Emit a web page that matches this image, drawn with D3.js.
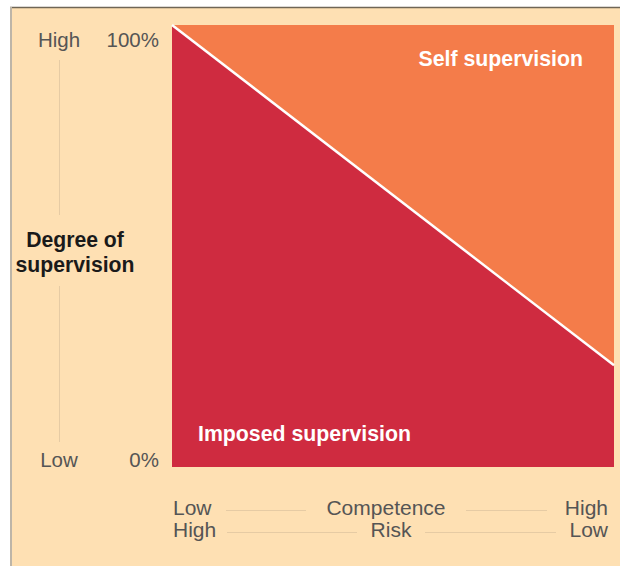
<!DOCTYPE html>
<html>
<head>
<meta charset="utf-8">
<script src="https://cdnjs.cloudflare.com/ajax/libs/d3/7.8.5/d3.min.js"></script>
<style>
  html, body { margin: 0; padding: 0; background: #fff; }
  svg text { font-family: "Liberation Sans", Arial, Helvetica, sans-serif; }
</style>
</head>
<body>
<div id="container"></div>
<script>
// chart data
var competence = [0, 1];            // low -> high (risk high -> low)
var imposed = [100, 23];            // % imposed supervision
var yTicks = [{v: 100, label: "100%", level: "High"}, {v: 0, label: "0%", level: "Low"}];
var xRows = [
  {name: "Competence", left: "Low", right: "High"},
  {name: "Risk", left: "High", right: "Low"}
];
var regionLabels = ["Self supervision", "Imposed supervision"];

var w = 620, h = 566;

var svg = d3.select("div#container")
  .append("svg")
  .attr("width", w)
  .attr("height", h);

// background panel
svg.append("rect")
  .attr("x", 10).attr("y", 7)
  .attr("width", w - 10).attr("height", h - 7)
  .attr("fill", "#fee0b3");
svg.append("line")
  .attr("x1", 10).attr("x2", w).attr("y1", 7.5).attr("y2", 7.5)
  .attr("stroke", "#6f6656").attr("stroke-width", 1.5);
svg.append("line")
  .attr("x1", 11).attr("x2", 11).attr("y1", 7).attr("y2", h)
  .attr("stroke", "#bdb5a8").attr("stroke-width", 2);

var x = d3.scaleLinear().domain([0, 1]).range([172, 614]);
var y = d3.scaleLinear().domain([0, 100]).range([467, 25]);

var pts = competence.map(function(c, i) { return {c: c, v: imposed[i]}; });

// self supervision (top)
svg.append("path")
  .datum(pts)
  .attr("fill", "#f47c4a")
  .attr("d", d3.area()
    .x(function(d) { return x(d.c); })
    .y0(y(100))
    .y1(function(d) { return y(d.v); }));

// imposed supervision (bottom)
svg.append("path")
  .datum(pts)
  .attr("fill", "#cf2b40")
  .attr("d", d3.area()
    .x(function(d) { return x(d.c); })
    .y0(y(0))
    .y1(function(d) { return y(d.v); }));

// dividing line
svg.append("path")
  .datum(pts)
  .attr("fill", "none")
  .attr("stroke", "#fff")
  .attr("stroke-width", 2.5)
  .attr("d", d3.line()
    .x(function(d) { return x(d.c); })
    .y(function(d) { return y(d.v); }));

// region labels
svg.append("text")
  .attr("x", 583).attr("y", 66)
  .attr("text-anchor", "end")
  .attr("fill", "#fff")
  .attr("font-weight", "bold")
  .attr("font-size", 21.3)
  .text(regionLabels[0]);
svg.append("text")
  .attr("x", 198).attr("y", 441)
  .attr("fill", "#fff")
  .attr("font-weight", "bold")
  .attr("font-size", 21.3)
  .text(regionLabels[1]);

// y axis labels
var yl = svg.append("g");
yl.selectAll(".pct")
  .data(yTicks)
  .enter().append("text")
  .attr("x", 159)
  .attr("y", function(d) { return y(d.v) + (d.v === 100 ? 22 : 0); })
  .attr("text-anchor", "end")
  .attr("font-size", 20.5)
  .attr("fill", "#555")
  .text(function(d) { return d.label; });
yl.selectAll(".lvl")
  .data(yTicks)
  .enter().append("text")
  .attr("x", 59)
  .attr("y", function(d) { return y(d.v) + (d.v === 100 ? 22 : 0); })
  .attr("text-anchor", "middle")
  .attr("font-size", 20.5)
  .attr("fill", "#555")
  .text(function(d) { return d.level; });

// vertical guide line with gap for title
yl.append("line")
  .attr("x1", 59.5).attr("x2", 59.5).attr("y1", 60).attr("y2", 215)
  .attr("stroke", "#e6cba4").attr("stroke-width", 1);
yl.append("line")
  .attr("x1", 59.5).attr("x2", 59.5).attr("y1", 286).attr("y2", 442)
  .attr("stroke", "#e6cba4").attr("stroke-width", 1);

var title = yl.append("text")
  .attr("x", 75)
  .attr("text-anchor", "middle")
  .attr("font-size", 21.2)
  .attr("font-weight", "bold")
  .attr("fill", "#1a1a1a");
title.append("tspan").attr("x", 75).attr("y", 247).text("Degree of");
title.append("tspan").attr("x", 75).attr("y", 272).text("supervision");

// x axis rows
var rowY = [515, 537];
var lineSeg = [[[226, 306], [466, 547]], [[227, 357], [425, 556]]];
xRows.forEach(function(r, i) {
  var g = svg.append("g");
  g.append("text").attr("x", x(0) + 1).attr("y", rowY[i])
    .attr("font-size", 21).attr("fill", "#555").text(r.left);
  g.append("text").attr("x", x(1) - 6).attr("y", rowY[i])
    .attr("text-anchor", "end")
    .attr("font-size", 21).attr("fill", "#555").text(r.right);
  g.append("text").attr("x", i === 0 ? 386 : 391).attr("y", rowY[i])
    .attr("text-anchor", "middle")
    .attr("font-size", 21).attr("fill", "#555").text(r.name);
  lineSeg[i].forEach(function(s) {
    g.append("line")
      .attr("x1", s[0]).attr("x2", s[1])
      .attr("y1", rowY[i] - 4.5).attr("y2", rowY[i] - 4.5)
      .attr("stroke", "#e6cba4").attr("stroke-width", 1);
  });
});
</script>
</body>
</html>
